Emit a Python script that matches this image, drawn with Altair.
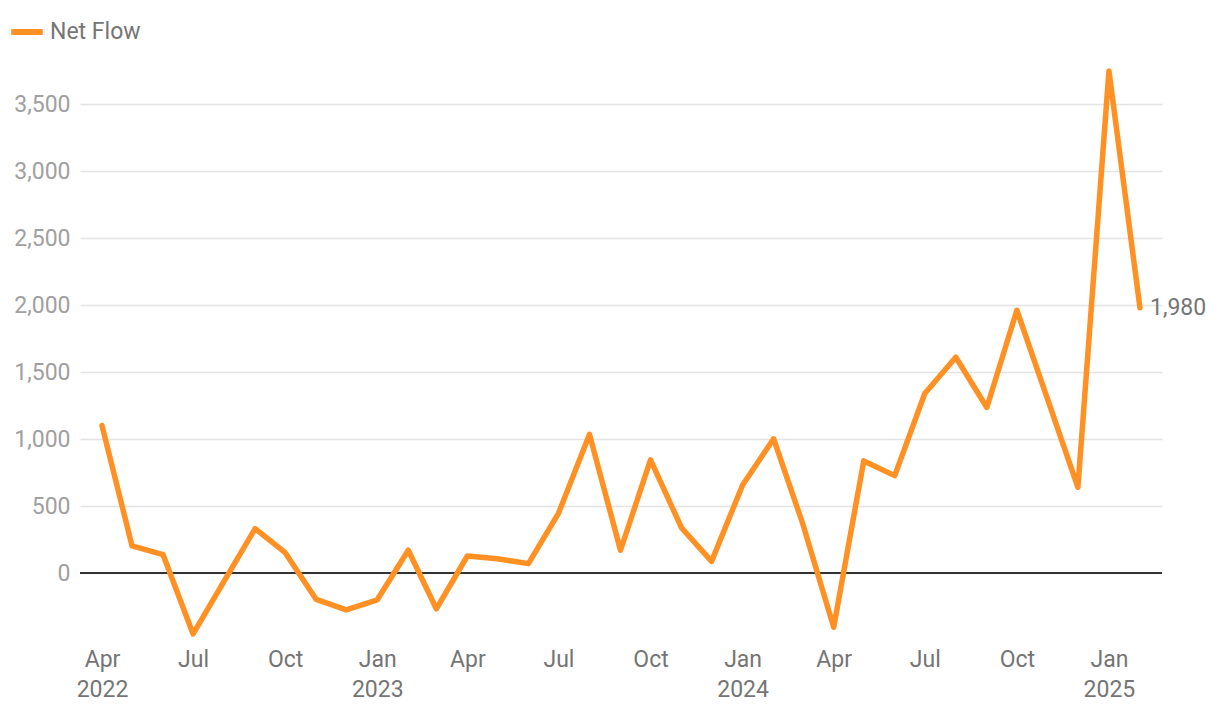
import altair as alt
import pandas as pd

months = [
    "2022-04-01", "2022-05-01", "2022-06-01", "2022-07-01", "2022-08-01", "2022-09-01",
    "2022-10-01", "2022-11-01", "2022-12-01", "2023-01-01", "2023-02-01", "2023-03-01",
    "2023-04-01", "2023-05-01", "2023-06-01", "2023-07-01", "2023-08-01", "2023-09-01",
    "2023-10-01", "2023-11-01", "2023-12-01", "2024-01-01", "2024-02-01", "2024-03-01",
    "2024-04-01", "2024-05-01", "2024-06-01", "2024-07-01", "2024-08-01", "2024-09-01",
    "2024-10-01", "2024-11-01", "2024-12-01", "2025-01-01", "2025-02-01",
]
net_flow = [
    1100, 202, 137, -455, -60, 332,
    152, -197, -275, -200, 170, -267,
    127, 107, 70, 445, 1035, 170,
    845, 337, 87, 657, 1002, 370,
    -405, 837, 727, 1340, 1611, 1236,
    1962, 1290, 640, 3748, 1980,
]
series_name = "Net Flow"
y_ticks = [0, 500, 1000, 1500, 2000, 2500, 3000, 3500]
x_ticks = ["2022-04-01", "2022-07-01", "2022-10-01", "2023-01-01", "2023-04-01", "2023-07-01",
           "2023-10-01", "2024-01-01", "2024-04-01", "2024-07-01", "2024-10-01", "2025-01-01"]

df = pd.DataFrame({"date": months, "value": net_flow, "series": series_name})
last = df.tail(1).copy()
last["label"] = "1,980"
zero = pd.DataFrame({"y": [0]})

def dt(s):
    y, m, d = s.split("-")
    return alt.DateTime(year=int(y), month=int(m), date=int(d), utc=True)

FONT = "Roboto"
ORANGE = "#ff9124"
FS = 23

x_scale = alt.Scale(type="utc", domain=[dt("2022-03-10"), dt("2025-02-23")])
y_scale = alt.Scale(domain=[-500, 3800], nice=False, zero=False)

label_expr = (
    "(utcmonth(datum.value) == 0 || datum.index == 0) ? "
    "[utcFormat(datum.value, '%b'), utcFormat(datum.value, '%Y')] : utcFormat(datum.value, '%b')"
)

x_axis = alt.Axis(
    values=[dt(s) for s in x_ticks],
    labelExpr=label_expr,
    title=None, domain=False, ticks=False, grid=False,
    labelFont=FONT, labelFontSize=FS, labelColor="#757575",
    labelPadding=8, labelLineHeight=30, labelBaseline="top",
)
y_axis = alt.Axis(
    values=y_ticks, format=",d", title=None, domain=False, ticks=False,
    grid=True, gridColor="#e3e3e3", gridWidth=1.5,
    labelFont=FONT, labelFontSize=FS, labelColor="#a0a0a0", labelPadding=10,
)

zero_rule = alt.Chart(zero).mark_rule(color="#333333", strokeWidth=2).encode(
    y=alt.Y("y:Q", scale=y_scale, axis=y_axis)
)

line = alt.Chart(df).mark_line(strokeWidth=5.5, strokeJoin="round", strokeCap="round").encode(
    x=alt.X("date:T", scale=x_scale, axis=x_axis),
    y=alt.Y("value:Q", scale=y_scale, axis=y_axis),
    color=alt.Color(
        "series:N",
        scale=alt.Scale(domain=[series_name], range=[ORANGE]),
        legend=alt.Legend(
            title=None, orient="none", legendX=-72, legendY=-51,
            symbolType="stroke", symbolStrokeWidth=6, symbolSize=1000,
            labelFont=FONT, labelFontSize=FS, labelColor="#757575", labelOffset=4,
        ),
    ),
)

end_label = alt.Chart(last).mark_text(
    align="left", baseline="middle", dx=10, font=FONT, fontSize=FS, color="#757575"
).encode(
    x=alt.X("date:T", scale=x_scale),
    y=alt.Y("value:Q", scale=y_scale),
    text="label:N",
)

chart = (
    alt.layer(zero_rule, line, end_label)
    .properties(
        width=1082, height=576,
        autosize=alt.AutoSizeParams(type="none"),
        padding={"left": 72, "top": 56, "right": 50, "bottom": 66},
    )
    .configure_view(stroke=None)
)

chart.save("out.html", embed_options={"renderer": "svg", "actions": False})
